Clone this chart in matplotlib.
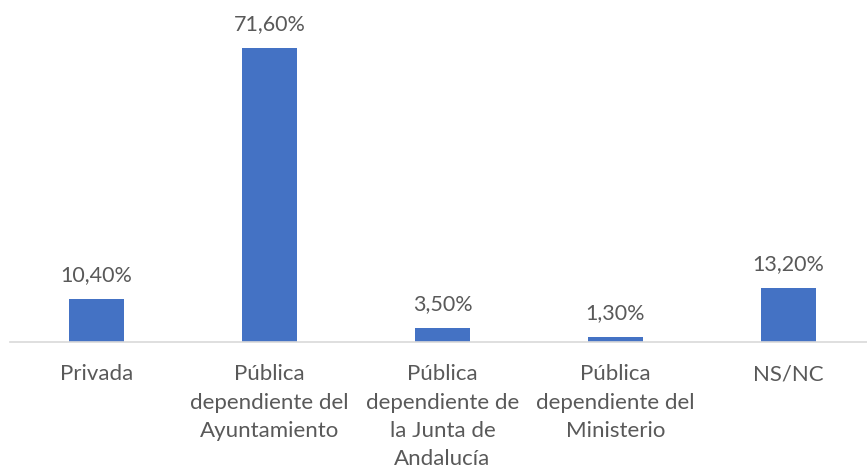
import matplotlib.pyplot as plt

categories = ['Privada',
              'Pública\ndependiente del\nAyuntamiento',
              'Pública\ndependiente de\nla Junta de\nAndalucía',
              'Pública\ndependiente del\nMinisterio',
              'NS/NC']
values = [10.4, 71.6, 3.5, 1.3, 13.2]
labels = ['10,40%', '71,60%', '3,50%', '1,30%', '13,20%']

plt.rcParams['font.family'] = ['Lato', 'DejaVu Sans']

fig = plt.figure(figsize=(8.67, 4.69), dpi=100)
ax = fig.add_axes([10/867, 127/469, 857/867, 329/469])

x = range(len(values))
bars = ax.bar(x, values, width=0.32, color='#4472C4')
for b, lab in zip(bars, labels):
    ax.annotate(lab, (b.get_x() + b.get_width()/2, b.get_height()),
                xytext=(0, 10), textcoords='offset points',
                ha='center', va='bottom', fontsize=15.5, color='#595959')

ax.set_xlim(-0.5, -0.5 + 857/173)
ax.set_ylim(0, 80)
ax.set_xticks(list(x))
ax.set_xticklabels(categories, fontsize=16, color='#595959', linespacing=1.52)
ax.tick_params(axis='x', length=0, pad=16)
ax.set_yticks([])
for s in ['top', 'right', 'left']:
    ax.spines[s].set_visible(False)
ax.spines['bottom'].set_color('#D9D9D9')
ax.spines['bottom'].set_linewidth(1.2)

fig.savefig('out.png', dpi=100)
